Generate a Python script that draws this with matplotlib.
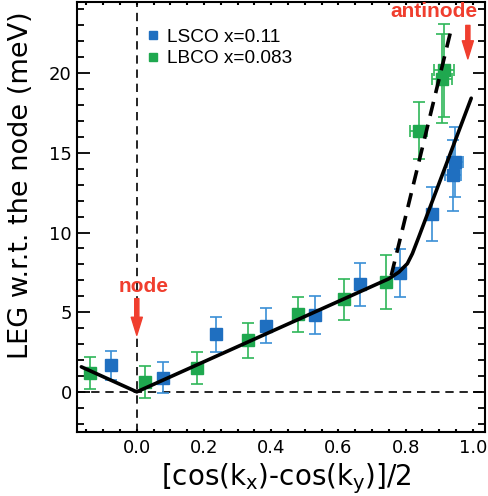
import matplotlib
matplotlib.use("Agg")
import matplotlib.pyplot as plt
from matplotlib.lines import Line2D
from matplotlib.ticker import MultipleLocator

plt.rcParams['font.family'] = ['DejaVu Sans']

# ---- data ----
lsco_x = [-0.077, 0.079, 0.237, 0.385, 0.530, 0.664, 0.783, 0.879, 0.941, 0.946]
lsco_y = [1.67, 0.90, 3.62, 4.16, 4.83, 6.75, 7.46, 11.18, 13.58, 14.42]
lsco_yerr = [0.9, 1.0, 1.1, 1.1, 1.2, 1.35, 1.5, 1.7, 2.2, 2.2]
lsco_xerr = [0, 0, 0, 0, 0, 0, 0, 0, 0.024, 0.024]

lbco_x = [-0.138, 0.025, 0.178, 0.331, 0.479, 0.617, 0.741, 0.839, 0.909, 0.913]
lbco_y = [1.19, 0.63, 1.50, 3.24, 4.87, 5.81, 6.90, 16.4, 19.65, 20.17]
lbco_yerr = [1.0, 1.0, 1.0, 1.1, 1.1, 1.3, 1.7, 1.8, 2.8, 2.9]
lbco_xerr = [0, 0, 0, 0, 0, 0, 0, 0.025, 0.03, 0.03]

fit_solid_x = [-0.165, 0.0, 0.75, 0.78, 0.805, 0.82, 0.839, 0.995]
fit_solid_y = [1.57, 0.0, 7.10, 7.52, 8.05, 8.68, 9.72, 18.43]
fit_dash_x = [0.757, 0.937]
fit_dash_y = [7.3, 22.9]

labels = ['LSCO x=0.11', 'LBCO x=0.083']
xticks = [0.0, 0.2, 0.4, 0.6, 0.8, 1.0]
yticks = [0, 5, 10, 15, 20]

blue = '#1f6fc0'
blue_e = '#3a8fd6'
green = '#1fa84f'
green_e = '#2fb659'
red = '#f03e2e'

fig = plt.figure(figsize=(4.88, 4.96), dpi=100)
ax = fig.add_axes([77.3/488, 1-431.7/496, (485-77.3)/488, (431.7-1.5)/496])

ax.set_xlim(-0.177, 1.036)
ax.set_ylim(-2.5, 24.5)

# reference dashed lines
ax.axhline(0, color='black', lw=1.2, ls=(0, (5, 3.5)), zorder=1)
ax.axvline(0, color='black', lw=1.2, ls=(0, (5, 3.5)), zorder=1)

ax.errorbar(lbco_x, lbco_y, yerr=lbco_yerr, xerr=lbco_xerr, fmt='s', ms=8.5,
            mfc=green, mec=green, ecolor=green_e, elinewidth=1.2, capsize=4.2,
            capthick=1.2, zorder=3)
ax.errorbar(lsco_x, lsco_y, yerr=lsco_yerr, xerr=lsco_xerr, fmt='s', ms=8.5,
            mfc=blue, mec=blue, ecolor=blue_e, elinewidth=1.2, capsize=4.2,
            capthick=1.2, zorder=4)

ax.plot(fit_solid_x, fit_solid_y, color='black', lw=2.6, zorder=5,
        solid_joinstyle='round', solid_capstyle='round')
ax.plot(fit_dash_x, fit_dash_y, color='black', lw=2.6, ls=(0, (4, 2.5)), zorder=5)

# arrows and labels
arrow_style = 'simple,head_length=0.65,head_width=0.4,tail_width=0.15'
ax.annotate('', xy=(0.0, 3.55), xytext=(0.0, 5.85),
            arrowprops=dict(arrowstyle=arrow_style, mutation_scale=20,
                            color=red, shrinkA=0, shrinkB=0), zorder=6)
ax.annotate('', xy=(0.985, 20.9), xytext=(0.985, 23.0),
            arrowprops=dict(arrowstyle=arrow_style, mutation_scale=20,
                            color=red, shrinkA=0, shrinkB=0), zorder=6)
ax.text(0.02, 6.27, 'node', color=red, fontsize=15, fontweight='bold',
        family='Liberation Sans', ha='center', va='baseline')
ax.text(0.883, 23.5, 'antinode', color=red, fontsize=15, fontweight='bold',
        family='Liberation Sans', ha='center', va='baseline')

# legend
handles = [Line2D([], [], ls='', marker='s', ms=5.3, color=blue),
           Line2D([], [], ls='', marker='s', ms=5.3, color=green)]
ax.legend(handles, labels, loc='upper left', bbox_to_anchor=(0.167, 0.9365),
          frameon=False, prop={'family': 'Liberation Sans', 'size': 13.7},
          handlelength=0.8, handletextpad=0.32,
          borderaxespad=0, borderpad=0, labelspacing=0.2)

# axes styling
ax.set_xticks(xticks)
ax.set_xticklabels([f'{t:.1f}' for t in xticks])
ax.set_yticks(yticks)
ax.xaxis.set_minor_locator(MultipleLocator(0.05))
ax.yaxis.set_minor_locator(MultipleLocator(1))
for s in ax.spines.values():
    s.set_linewidth(1.5)
ax.tick_params(axis='x', which='both', direction='in', top=True, bottom=True,
               length=2, width=1.5, labelsize=13, pad=5.5)
ax.tick_params(axis='y', which='major', direction='in', left=True, right=True,
               length=9, width=1.3, labelsize=13, pad=4)
ax.tick_params(axis='y', which='minor', direction='in', left=True, right=True,
               length=5, width=1.3)

ax.set_xlabel('[cos(k$_\\mathregular{x}$)-cos(k$_\\mathregular{y}$)]/2', fontsize=20)
ax.set_ylabel('LEG w.r.t. the node (meV)', fontsize=19.5)
ax.xaxis.set_label_coords(0.512, -0.069)
ax.yaxis.set_label_coords(-0.107, 0.573)

fig.savefig('out.png', dpi=100)
